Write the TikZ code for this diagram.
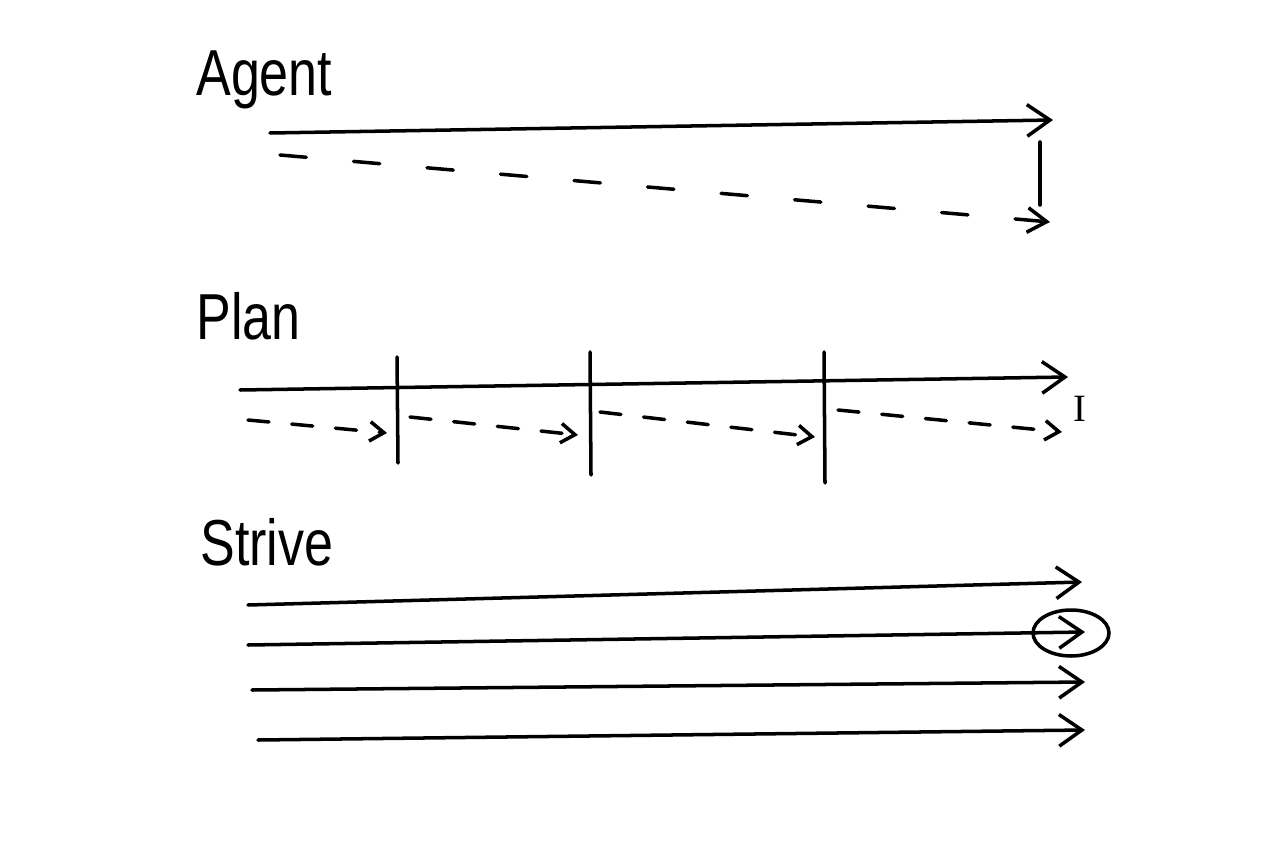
\documentclass[tikz,border=0pt]{standalone}
\usepackage{fontspec}
\setmainfont{Liberation Sans}
\newfontfamily\handfont[FakeStretch=0.8]{Liberation Sans}
\newfontfamily\cursorfont{Liberation Serif}
\usetikzlibrary{arrows.meta, shapes.geometric}
\tikzset{
  stroke/.style={line width=2pt, line cap=round},
  bigtip/.style={stroke, -{Straight Barb[length=13pt, width=18pt, line width=2pt]}},
  smalltip/.style={stroke, dash pattern=on 12pt off 13pt, -{Straight Barb[length=8pt, width=11pt, line width=2pt]}},
  dashtip/.style={stroke, dash pattern=on 15pt off 27pt, -{Straight Barb[length=11pt, width=14pt, line width=2pt]}},
  title/.style={anchor=base west, inner sep=0pt, font=\handfont\fontsize{37pt}{37pt}\selectfont}
}
\begin{document}
\begin{tikzpicture}[x=0.02cm, y=-0.02cm]
\fill[white] (0,0) rectangle (1270,844);
% Agent
\node[title] (agent) at (196,96) {Agent};
\coordinate (a0) at (270,133);
\coordinate (a1) at (1053,120);
\coordinate (a2) at (280,155);
\coordinate (a3) at (1050,222);
\coordinate (a4) at (1040,142);
\coordinate (a5) at (1040,205);
\draw[bigtip] (a0) -- (a1);
\draw[dashtip] (a2) -- (a3);
\draw[stroke] (a4) -- (a5);
% Plan
\node[title] (plan) at (196,339) {Plan};
\coordinate (p0) at (240,390);
\coordinate (p1) at (1068,377);
\draw[bigtip] (p0) -- (p1);
\coordinate (b1t) at (397,357);
\coordinate (b1b) at (398,463);
\coordinate (b2t) at (590,352);
\coordinate (b2b) at (591,475);
\coordinate (b3t) at (824,352);
\coordinate (b3b) at (825,483);
\draw[stroke] (b1t) -- (b1b);
\draw[stroke] (b2t) -- (b2b);
\draw[stroke] (b3t) -- (b3b);
\coordinate (d0) at (248,420);
\coordinate (d1) at (387,433);
\coordinate (d2) at (410,417);
\coordinate (d3) at (578,435);
\coordinate (d4) at (600,412);
\coordinate (d5) at (815,437);
\coordinate (d6) at (838,410);
\coordinate (d7) at (1062,432);
\draw[smalltip] (d0) -- (d1);
\draw[smalltip] (d2) -- (d3);
\draw[smalltip] (d4) -- (d5);
\draw[smalltip] (d6) -- (d7);
\node[inner sep=0pt, font=\cursorfont\fontsize{22pt}{22pt}\selectfont] (cursor) at (1080,409) {I};
% Strive
\node[title] (strive) at (200,565) {Strive};
\coordinate (s0) at (248,605);
\coordinate (s1) at (1082,582);
\coordinate (s2) at (248,645);
\coordinate (s3) at (1085,632);
\coordinate (s4) at (252,690);
\coordinate (s5) at (1085,682);
\coordinate (s6) at (258,740);
\coordinate (s7) at (1085,730);
\draw[bigtip] (s0) -- (s1);
\draw[bigtip] (s2) -- (s3);
\draw[bigtip] (s4) -- (s5);
\draw[bigtip] (s6) -- (s7);
\node[stroke, draw, ellipse, inner sep=0pt, minimum width=1.52cm, minimum height=0.92cm] (pick) at (1071,633) {};
\end{tikzpicture}
\end{document}
